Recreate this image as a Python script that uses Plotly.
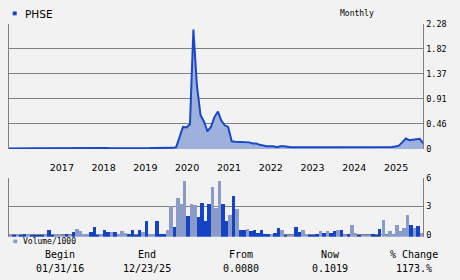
import numpy as np
import pandas as pd
import plotly.graph_objects as go

W, H = 460, 280
symbol = "PHSE"
period_label = "Monthly"

dates = pd.date_range("2016-01-31", periods=120, freq="ME")

price = [
    0.008, 0.010, 0.012, 0.011, 0.010, 0.012, 0.014, 0.013, 0.012, 0.011, 0.012, 0.013,
    0.012, 0.014, 0.013, 0.012, 0.013, 0.015, 0.014, 0.013, 0.012, 0.013, 0.014, 0.015,
    0.016, 0.015, 0.014, 0.015, 0.016, 0.015, 0.014, 0.015, 0.016, 0.015, 0.014, 0.013,
    0.014, 0.015, 0.014, 0.013, 0.015, 0.016, 0.015, 0.014, 0.015, 0.016, 0.017, 0.020,
    0.030, 0.220, 0.400, 0.390, 0.450, 2.170, 1.150, 0.620, 0.500, 0.320, 0.400, 0.580,
    0.680, 0.520, 0.430, 0.400, 0.140, 0.130, 0.125, 0.125, 0.125, 0.120, 0.100, 0.100,
    0.075, 0.060, 0.050, 0.050, 0.050, 0.030, 0.050, 0.050, 0.035, 0.030, 0.030, 0.030,
    0.030, 0.032, 0.030, 0.030, 0.031, 0.030, 0.030, 0.032, 0.030, 0.030, 0.031, 0.030,
    0.030, 0.030, 0.031, 0.030, 0.030, 0.030, 0.032, 0.030, 0.030, 0.031, 0.030, 0.030,
    0.030, 0.030, 0.035, 0.045, 0.060, 0.120, 0.190, 0.160, 0.170, 0.180, 0.185, 0.1019,
]

volume = [
    0.10, 0.00, 0.15, 0.00, 0.15, 0.10, 0.00, 0.00, 0.00, 0.00, 0.10, 0.50,
    0.00, 0.05, 0.05, 0.00, 0.10, 0.00, 0.30, 0.67, 0.44, 0.05, 0.05, 0.30,
    0.85, 0.00, 0.05, 0.55, 0.35, 0.30, 0.30, 0.05, 0.45, 0.25, 0.05, 0.50,
    0.00, 0.50, 0.30, 1.45, 0.05, 0.05, 1.50, 0.10, 0.10, 0.50, 3.05, 0.85,
    3.90, 3.30, 5.70, 1.96, 3.30, 3.15, 1.86, 3.40, 1.45, 3.30, 5.00, 2.80,
    5.70, 3.30, 1.50, 2.10, 4.10, 2.70, 0.50, 0.55, 0.65, 0.45, 0.55, 0.20,
    0.50, 0.15, 0.15, 0.10, 0.25, 0.75, 0.50, 0.00, 0.00, 0.00, 0.85, 0.35,
    0.55, 0.10, 0.00, 0.00, 0.05, 0.45, 0.20, 0.45, 0.20, 0.40, 0.55, 0.55,
    0.00, 0.05, 1.05, 0.25, 0.00, 0.00, 0.00, 0.00, 0.05, 0.00, 0.65, 1.60,
    0.00, 0.40, 0.10, 1.05, 0.45, 0.70, 2.07, 1.05, 0.70, 0.95, 0.20, 0.20,
]

vol_up = [
    0, 1, 0, 1, 1, 0, 1, 1, 1, 1, 0, 1,
    1, 0, 0, 0, 1, 0, 1, 0, 0, 0, 0, 1,
    1, 1, 0, 1, 1, 0, 1, 0, 0, 0, 1, 1,
    1, 1, 0, 1, 0, 0, 1, 1, 1, 0, 0, 1,
    0, 0, 0, 1, 0, 0, 1, 1, 1, 1, 0, 0,
    0, 1, 1, 0, 1, 0, 1, 1, 0, 1, 1, 1,
    1, 1, 1, 0, 1, 1, 0, 1, 0, 0, 1, 1,
    0, 0, 1, 1, 1, 0, 1, 0, 1, 1, 0, 1,
    0, 1, 0, 0, 1, 0, 0, 0, 1, 1, 1, 0,
    0, 0, 0, 0, 0, 0, 0, 1, 0, 1, 0, 0,
]

year_labels = ["2017", "2018", "2019", "2020", "2021", "2022", "2023", "2024", "2025"]
price_ticks = [0, 0.456, 0.912, 1.368, 1.824, 2.28]
price_tick_text = ["0", "0.46", "0.91", "1.37", "1.82", "2.28"]
vol_ticks = [0, 3, 6]
vol_tick_text = ["0", "3", "6"]

stat_heads = ["Begin", "End", "From", "Now", "% Change"]
stat_vals = ["01/31/16", "12/23/25", "0.0080", "0.1019", "1173.%"]

BG = "#f2f2f2"
GRID = "#808080"
DARK = "#1444c4"
LIGHT = "#8a9bc9"
FILL = "#9eb0dc"
LINE = "#1848c8"

def px(x):
    return x / W

def py(y):
    return 1 - y / H

x0, x1 = 9, 423.3
p_top, p_bot = 19.3, 149.3
v_top, v_bot = 179.3, 240.3
VMIN = -0.2

fig = go.Figure()
fig.add_trace(go.Scatter(
    x=dates, y=price, mode="lines", fill="tozeroy",
    line=dict(color=LINE, width=2), fillcolor=FILL,
    xaxis="x", yaxis="y", showlegend=False, hoverinfo="skip",
))

month_ms = 30.44 * 24 * 3600 * 1000
fig.add_trace(go.Bar(
    x=dates, y=np.array(volume) - VMIN, base=VMIN,
    width=month_ms, offset=0,
    marker=dict(color=[DARK if u else LIGHT for u in vol_up], line=dict(width=0)),
    xaxis="x2", yaxis="y2", showlegend=False, hoverinfo="skip",
))

year_ticks = [pd.Timestamp(f"{y}-01-31") for y in year_labels]
xr = [dates[0], dates[-1]]

fig.update_layout(
    width=W, height=H,
    margin=dict(l=0, r=0, t=0, b=0),
    paper_bgcolor=BG, plot_bgcolor=BG,
    bargap=0,
    xaxis=dict(
        domain=[px(x0), px(x1)], range=xr, anchor="y",
        showgrid=False, zeroline=False, showline=False,
        tickvals=year_ticks, ticktext=year_labels, ticks="",
        ticklabelshift=11, ticklabelstandoff=12,
        tickfont=dict(family="DejaVu Sans", size=9.5, color="#000"),
    ),
    yaxis=dict(
        domain=[py(p_bot), py(p_top)], range=[0, 2.28], anchor="x", side="right",
        tickvals=price_ticks, ticktext=price_tick_text, ticks="",
        showgrid=True, gridcolor=GRID, gridwidth=1, zeroline=False,
        showline=True, linecolor=GRID, linewidth=1.3, mirror=True,
        tickfont=dict(family="DejaVu Sans Mono", size=8.5, color="#000"),
    ),
    xaxis2=dict(
        domain=[px(x0), px(x1)], range=xr, anchor="y2", matches="x",
        showgrid=False, zeroline=False, showline=False, showticklabels=False, ticks="",
    ),
    yaxis2=dict(
        domain=[py(v_bot), py(v_top)], range=[VMIN, 6], anchor="x2", side="right",
        tickvals=vol_ticks, ticktext=vol_tick_text, ticks="",
        showgrid=True, gridcolor=GRID, gridwidth=1, zeroline=False,
        showline=True, linecolor=GRID, linewidth=1.3, mirror=True,
        tickfont=dict(family="DejaVu Sans Mono", size=8.5, color="#000"),
    ),
)

ann = []
ann.append(dict(text=symbol, x=px(22.5), y=py(9.2), xref="paper", yref="paper",
                xanchor="left", yanchor="middle", showarrow=False,
                font=dict(family="DejaVu Sans", size=10.5, color="#000")))
ann.append(dict(text=period_label, x=px(357), y=py(9.2), xref="paper", yref="paper",
                xanchor="center", yanchor="middle", showarrow=False,
                font=dict(family="DejaVu Sans Mono", size=8, color="#000")))
ann.append(dict(text="Volume/1000", x=px(20.5), y=py(245), xref="paper", yref="paper",
                xanchor="left", yanchor="middle", showarrow=False,
                font=dict(family="DejaVu Sans Mono", size=8, color="#000")))
col_x = [60, 147, 241, 330, 414]
for cx, h, v in zip(col_x, stat_heads, stat_vals):
    ann.append(dict(text=h, x=px(cx), y=py(259), xref="paper", yref="paper",
                    xanchor="center", yanchor="middle", showarrow=False,
                    font=dict(family="DejaVu Sans Mono", size=10, color="#000")))
    ann.append(dict(text=v, x=px(cx), y=py(273), xref="paper", yref="paper",
                    xanchor="center", yanchor="middle", showarrow=False,
                    font=dict(family="DejaVu Sans Mono", size=10, color="#000")))
fig.update_layout(annotations=ann)

fig.add_shape(type="rect", xref="paper", yref="paper",
              x0=px(12.7), x1=px(16.7), y0=py(10.7), y1=py(6.7),
              fillcolor=DARK, line=dict(width=0))
fig.add_shape(type="rect", xref="paper", yref="paper",
              x0=px(13.3), x1=px(17.3), y0=py(247), y1=py(243.3),
              fillcolor=LIGHT, line=dict(width=0))

fig.write_html("out.html")
